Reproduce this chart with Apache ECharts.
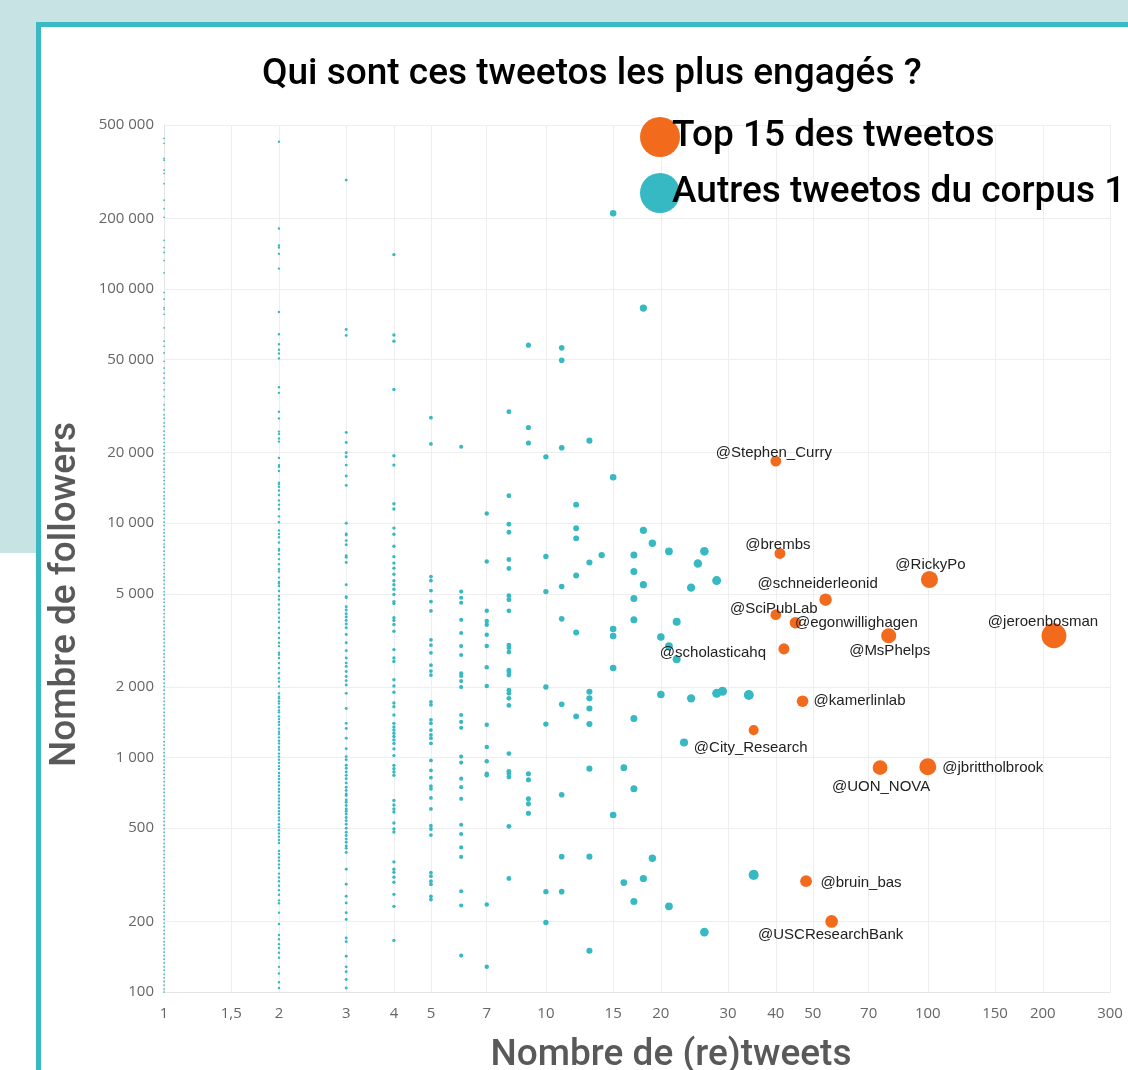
<!DOCTYPE html>
<html>
<head>
<meta charset="utf-8">
<script src="https://cdn.jsdelivr.net/npm/echarts@6/dist/echarts.min.js"></script>
<style>
  html, body { margin: 0; padding: 0; width: 1128px; height: 1070px; overflow: hidden; background: #fff; }
  .bg-top { position: absolute; left: 0; top: 0; width: 1128px; height: 22px; background: #c8e3e3; }
  .bg-left { position: absolute; left: 0; top: 0; width: 36px; height: 553px; background: #c8e3e3; }
  .card { position: absolute; left: 36px; top: 22px; width: 1100px; height: 1100px; background: #fff;
          border-left: 5px solid #38b9c4; border-top: 5px solid #38b9c4; }
  #chart { position: absolute; left: 0; top: 0; width: 1128px; height: 1070px; }
</style>
</head>
<body>
<div class="bg-top"></div>
<div class="bg-left"></div>
<div class="card"></div>
<div id="chart"></div>
<script>
// tick labels
const xTicks = [1, 1.5, 2, 3, 4, 5, 7, 10, 15, 20, 30, 40, 50, 70, 100, 150, 200, 300];
const yTicks = [100, 200, 500, 1000, 2000, 5000, 10000, 20000, 50000, 100000, 200000, 500000];

// top 15 tweetos : nombre de (re)tweets / followers
const topNames = ["@Stephen_Curry", "@brembs", "@RickyPo", "@schneiderleonid", "@SciPubLab",
  "@egonwillighagen", "@MsPhelps", "@jeroenbosman", "@scholasticahq", "@kamerlinlab",
  "@City_Research", "@UON_NOVA", "@jbrittholbrook", "@bruin_bas", "@USCResearchBank"];
const topRetweets = [40, 41, 101, 54, 40, 45, 79, 214, 42, 47, 35, 75, 100, 48, 56];
const topFollowers = [18400, 7430, 5750, 4720, 4070, 3760, 3310, 3310, 2910, 1740, 1310, 906, 915, 297, 200];
// position des étiquettes autour du point
const topLabelOffsets = [[-2, -8], [-2, -9], [1, -15], [-8, -16], [-2, -6], [61, 0], [1, 15], [-11, -14],
  [-71, 4], [57, 0], [-3, 18], [1, 19], [65, 1], [55, 2], [-1, 13]];

// autres tweetos, par nombre de (re)tweets
const col1 = [439000, 418000, 360000, 354000, 321000, 311000, 281000, 239000, 220000, 202000, 161000,
  150000, 143000, 132000, 117000, 96400, 90300, 83200, 81800, 77900, 68200, 59800, 56900, 53300, 49100,
  45900, 43700, 41600, 39600, 37100, 34700, 32000, 30500, 29000, 28100, 26800, 25900, 24700, 23800,
  23000, 22100, 21300, 20600, 19800, 19000, 18400, 17700, 17000, 16500, 15800, 15200, 14700, 14100,
  13600, 13100, 12700, 12200, 11800, 11300, 10900, 10500, 10100, 9800, 9400, 9100, 8800, 8450, 8150,
  7900, 7600, 7350, 7050, 6800, 6600, 6350, 6100, 5900, 5700, 5500, 5300, 5100, 4950, 4750, 4600, 4420,
  4270, 4120, 3980, 3830, 3700, 3570, 3440, 3320, 3200, 3090, 2980, 2870, 2770, 2680, 2580, 2490, 2400,
  2320, 2230, 2160, 2080, 2010, 1940, 1870, 1800, 1740, 1680, 1620, 1560, 1510, 1450, 1400, 1350, 1310,
  1260, 1220, 1170, 1130, 1090, 1050, 1015, 980, 945, 910, 880, 850, 820, 790, 762, 735, 710, 685, 660,
  638, 615, 594, 573, 553, 534, 515, 497, 480, 463, 447, 431, 416, 401, 387, 374, 361, 348, 336, 324,
  313, 302, 291, 281, 271, 262, 253, 244, 235, 227, 219, 211, 204, 197, 190, 183, 177, 170, 164, 159,
  153, 148, 143, 138, 133, 128, 124, 119, 115, 111, 107, 103, 100];
const col2 = [424000, 181000, 153000, 150000, 141000, 122000, 79600, 64000, 58000, 55000, 53000, 50500,
  38000, 36000, 29900, 28000, 24600, 24000, 23000, 22300, 19000, 17700, 17400, 16700, 14900, 14700,
  14300, 13800, 13200, 12500, 12000, 11500, 10700, 10100, 9310, 9000, 8710, 8280, 7760, 7640, 7380,
  7030, 6690, 6370, 6220, 5860, 5620, 5530, 5400, 5140, 4890, 4730, 4500, 4290, 4150, 3950, 3800, 3580,
  3400, 3240, 3090, 2990, 2800, 2750, 2660, 2530, 2410, 2290, 2180, 2110, 2010, 1880, 1820, 1790, 1740,
  1700, 1640, 1590, 1560, 1500, 1460, 1420, 1380, 1330, 1290, 1260, 1220, 1180, 1150, 1110, 1080, 1040,
  1010, 980, 950, 920, 895, 860, 835, 810, 785, 760, 735, 715, 690, 670, 650, 630, 610, 590, 575, 555,
  540, 520, 505, 490, 475, 460, 445, 432, 400, 388, 375, 363, 350, 338, 320, 308, 297, 284, 272, 260,
  246, 239, 218, 195, 175, 168, 160, 154, 147, 140, 128, 120, 110, 104];
const col3 = [291000, 67100, 63300, 24400, 22100, 20000, 19200, 17700, 15900, 14500, 10000, 9000, 8900,
  8430, 8100, 7270, 7150, 6800, 5460, 4860, 4810, 4400, 4260, 4110, 3980, 3850, 3720, 3580, 3350, 3090,
  2860, 2660, 2530, 2450, 2330, 2220, 2130, 2040, 1880, 1620, 1400, 1330, 1210, 1090, 1010, 980, 927,
  900, 868, 840, 813, 780, 748, 724, 700, 689, 660, 645, 625, 604, 590, 575, 555, 538, 520, 500, 480,
  465, 449, 435, 420, 410, 394, 334, 288, 256, 240, 218, 204, 170, 164, 142, 128, 122, 113, 104];
const col4 = [140000, 63500, 59800, 37200, 19400, 17700, 12100, 11500, 9530, 8970, 7970, 7200, 6760,
  6430, 6060, 5680, 5460, 5230, 4970, 4630, 4540, 3950, 3850, 3700, 3460, 2890, 2660, 2570, 2150, 2020,
  1900, 1710, 1650, 1520, 1400, 1350, 1310, 1270, 1230, 1190, 1150, 1090, 1020, 927, 897, 868, 840, 656,
  628, 604, 586, 526, 496, 481, 359, 334, 324, 309, 294, 261, 232, 166];
const col5 = [28200, 21800, 5920, 5690, 5160, 4630, 4230, 3180, 3020, 2800, 2480, 2340, 2250, 1730,
  1680, 1450, 1400, 1310, 1250, 1210, 1150, 973, 882, 821, 756, 736, 673, 604, 512, 496, 467, 323, 312,
  297, 288, 256, 248];
const col6 = [21200, 5110, 4810, 4580, 3870, 3400, 2990, 2740, 2290, 2230, 2120, 2000, 1520, 1420, 1340,
  1010, 952, 813, 748, 667, 517, 472, 414, 377, 269, 234, 143];
const col7 = [11000, 6870, 4230, 3830, 3690, 3340, 2990, 2430, 2020, 1380, 1110, 964, 854, 840, 236, 128];
const col8 = [29900, 13100, 9900, 9150, 7000, 6410, 4910, 4720, 4230, 3020, 2940, 2820, 2360, 2320,
  2250, 1940, 1880, 1790, 1670, 1040, 874, 854, 826, 509, 305];
// points isolés : [retweets, followers]
const sparseOthers = [
  [9, 57500], [9, 25600], [9, 22000], [9, 854], [9, 805], [9, 667], [9, 635], [9, 579],
  [10, 19200], [10, 7210], [10, 5110], [10, 2000], [10, 1390], [10, 268], [10, 198],
  [11, 56000], [11, 49600], [11, 21000], [11, 5370], [11, 3910], [11, 1690], [11, 694], [11, 378], [11, 268],
  [12, 12000], [12, 9520], [12, 8620], [12, 5980], [12, 3420], [12, 1500],
  [13, 22500], [13, 6800], [13, 1910], [13, 1790], [13, 1620], [13, 1390], [13, 897], [13, 378], [13, 150],
  [14, 7310],
  [15, 210000], [15, 15700], [15, 3540], [15, 3300], [15, 2410], [15, 569],
  [16, 906], [16, 293],
  [17, 7310], [17, 6230], [17, 4770], [17, 3870], [17, 1470], [17, 736], [17, 243],
  [18, 82800], [18, 9330], [18, 5470], [18, 305],
  [19, 8210], [19, 372],
  [20, 3270], [20, 1860],
  [21, 7590], [21, 2990], [21, 232],
  [22, 3800], [22, 2630],
  [23, 1160],
  [24, 5310], [24, 1790],
  [25, 6730],
  [26, 7590], [26, 180],
  [28, 5690], [28, 1880],
  [29, 1920],
  [34, 1850],
  [35, 316]
];

const topSeriesName = "Top 15 des tweetos";
const otherSeriesName = "Autres tweetos du corpus 1";

const columns = [[1, col1], [2, col2], [3, col3], [4, col4], [5, col5], [6, col6], [7, col7], [8, col8]];
const otherData = [];
columns.forEach(([rt, list]) => list.forEach(f => otherData.push([rt, f])));
sparseOthers.forEach(p => otherData.push(p));

const topData = topNames.map((name, i) => ({
  name: name,
  value: [topRetweets[i], topFollowers[i]],
  label: { offset: topLabelOffsets[i] }
}));

const sizeOf = val => 1.7 * Math.sqrt(val[0]);
const gridColor = "#eeeeee";
const tickColor = "#666";

const chart = echarts.init(document.getElementById("chart"));
chart.setOption({
  animation: false,
  title: {
    text: "Qui sont ces tweetos les plus engagés ?",
    left: 257,
    top: 51,
    textStyle: { fontFamily: "Roboto", fontSize: 37, fontWeight: 500, color: "#000" }
  },
  legend: {
    orient: "vertical",
    left: 635,
    top: 112,
    itemWidth: 40,
    itemHeight: 40,
    itemGap: 16,
    icon: "circle",
    data: [topSeriesName, otherSeriesName],
    textStyle: { fontFamily: "Roboto", fontSize: 37, fontWeight: 500, color: "#000", padding: [0, 0, 0, -13] }
  },
  grid: { left: 164, right: 18, top: 125, bottom: 78, outerBoundsMode: "none" },
  xAxis: {
    type: "log",
    logBase: 10,
    min: 1,
    max: 300,
    name: "Nombre de (re)tweets",
    nameLocation: "middle",
    nameGap: 45,
    nameTextStyle: { fontFamily: "Roboto", fontSize: 37, fontWeight: 500, color: "#595959", padding: [0, 0, 0, 68] },
    axisLine: { lineStyle: { color: "#e4e4e4" } },
    axisTick: { show: false, customValues: xTicks },
    axisLabel: {
      customValues: xTicks,
      margin: 14,
      fontFamily: "Open Sans",
      fontSize: 15,
      color: tickColor,
      formatter: v => String(v).replace(".", ",")
    },
    splitLine: { show: true, lineStyle: { color: gridColor, width: 1 } }
  },
  yAxis: {
    type: "log",
    logBase: 10,
    min: 100,
    max: 500000,
    name: "Nombre de followers",
    nameLocation: "middle",
    nameGap: 80,
    nameTextStyle: { fontFamily: "Roboto", fontSize: 37, fontWeight: 500, color: "#595959", padding: [0, 72, 0, 0] },
    axisLine: { show: true, lineStyle: { color: "#e4e4e4" } },
    axisTick: { show: false, customValues: yTicks },
    axisLabel: {
      customValues: yTicks,
      margin: 10,
      fontFamily: "Open Sans",
      fontSize: 15,
      color: tickColor,
      formatter: v => String(v).replace(/\B(?=(\d{3})+(?!\d))/g, " ")
    },
    splitLine: { show: true, lineStyle: { color: gridColor, width: 1 } }
  },
  series: [
    {
      name: otherSeriesName,
      type: "scatter",
      data: otherData,
      symbolSize: sizeOf,
      itemStyle: { color: "#36b9c3", opacity: 1 },
      z: 2
    },
    {
      name: topSeriesName,
      type: "scatter",
      data: topData,
      symbolSize: sizeOf,
      itemStyle: { color: "#f26b1d", opacity: 1 },
      label: {
        show: true,
        position: "inside",
        formatter: p => p.name,
        fontFamily: "Liberation Sans",
        fontSize: 15,
        color: "#222"
      },
      z: 3
    }
  ]
});
</script>
</body>
</html>
